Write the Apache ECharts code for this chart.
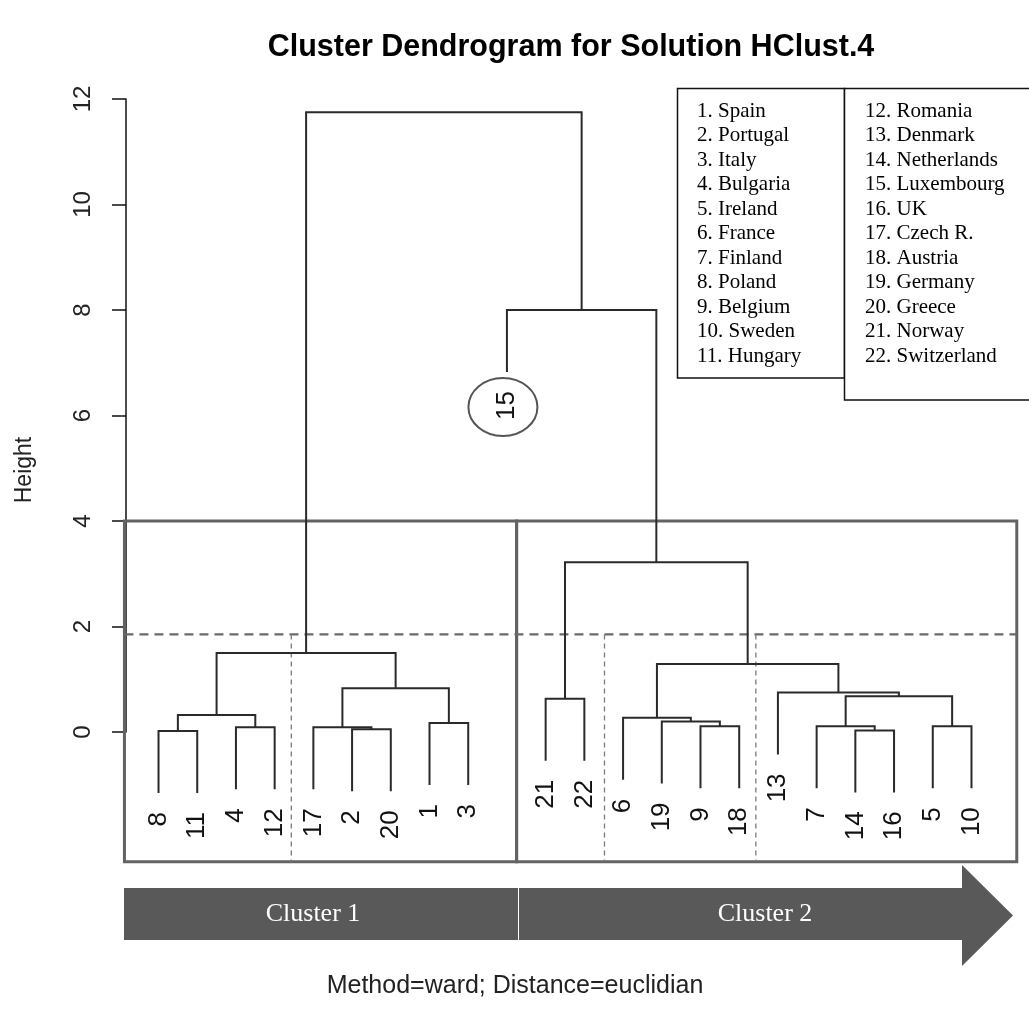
<!DOCTYPE html>
<html><head><meta charset="utf-8">
<script src="https://cdn.jsdelivr.net/npm/echarts@6/dist/echarts.min.js"></script>
<style>html,body{margin:0;padding:0;background:#fff}#c{width:1029px;height:1020px}</style>
</head><body><div id="c"></div>
<script>
// ---------------- DATA ----------------
// leaf order along the x axis (country numbers)
const leafOrder = [8,11,4,12,17,2,20,1,3,15,21,22,6,19,9,18,13,7,14,16,5,10];
// merges (R hclust convention: negative = leaf number, positive = earlier merge step)
const mergeLeft   = [-8,-14,-2,-4,-17,-9,-7,-5,-1,-19,-6, 1,-21, 7,-13, 5,11,12,13,-15,18];
const mergeRight  = [-11,-16,-20,-12, 3,-18, 2,-10,-3, 6,10, 4,-22, 8, 14, 9,15,16,17, 19,20];
const mergeHeight = [0.02,0.03,0.05,0.09,0.09,0.11,0.11,0.11,0.17,0.20,0.27,0.32,0.63,0.68,0.75,0.83,1.29,1.50,3.22,8.00,11.75];
const hang = 0.1;
const yTicks = [0, 2, 4, 6, 8, 10, 12];
const countries = ['Spain','Portugal','Italy','Bulgaria','Ireland','France','Finland','Poland','Belgium','Sweden','Hungary',
  'Romania','Denmark','Netherlands','Luxembourg','UK','Czech R.','Austria','Germany','Greece','Norway','Switzerland'];
const clusterNames = ['Cluster 1', 'Cluster 2'];
const circledLeaf = 15;
// cut annotations (in axis units)
const clusterBoxEdges = [0.12, 10.25, 23.17];   // x edges of the k=2 boxes
const clusterBoxTop = 4.0;
const clusterBoxBottom = -2.46;
const subCutHeight = 1.85;                      // dashed cut line
const subClusterEdges = [4.43, 12.52, 16.43];    // thin dashed dividers
const titleText = 'Cluster Dendrogram for Solution HClust.4';
const subText = 'Method=ward; Distance=euclidian';

// ---------------- BUILD TREE GEOMETRY ----------------
const maxH = Math.max(...mergeHeight);
const hangLen = hang * maxH;
const leafX = {};
leafOrder.forEach((lab, i) => { leafX[lab] = i + 1; });
const nodeX = [], leafEnds = {};
const segs = [];
for (let i = 0; i < mergeHeight.length; i++) {
  const h = mergeHeight[i];
  const kids = [mergeLeft[i], mergeRight[i]].map(c => {
    if (c < 0) { const lab = -c; leafEnds[lab] = h - hangLen; return [leafX[lab], h - hangLen]; }
    return [nodeX[c - 1], mergeHeight[c - 1]];
  });
  nodeX.push((kids[0][0] + kids[1][0]) / 2);
  segs.push([kids[0][0], kids[0][1], kids[0][0], h, kids[1][0], h, kids[1][0], kids[1][1]]);
}
const leafData = leafOrder.map(lab => [leafX[lab], leafEnds[lab], String(lab)]);

const boxData = [];
for (let i = 0; i < clusterBoxEdges.length - 1; i++) boxData.push([clusterBoxEdges[i], clusterBoxBottom, clusterBoxEdges[i + 1], clusterBoxTop]);
const dividerData = subClusterEdges.map(x => [x, subCutHeight, x, clusterBoxBottom]);
const cutData = [[clusterBoxEdges[0], subCutHeight, clusterBoxEdges[clusterBoxEdges.length - 1], subCutHeight]];

// ---------------- CHART ----------------
const chart = echarts.init(document.getElementById('c'), null, {renderer: 'canvas'});
const SANS = '"Liberation Sans", Arial, sans-serif';
const SERIF = '"Liberation Serif", "Times New Roman", serif';

function lineSeries(name, data, style, z) {
  return {
    type: 'custom', name, clip: false, z,
    encode: {x: [0, 2], y: [1, 3]},
    renderItem: (p, api) => {
      const a = api.coord([api.value(0), api.value(1)]);
      const b = api.coord([api.value(2), api.value(3)]);
      return {type: 'line', shape: {x1: a[0], y1: a[1], x2: b[0], y2: b[1]}, style, silent: true};
    },
    data
  };
}

const legendRows = [];
countries.forEach((c, i) => {
  const col = i < 11 ? 0 : 1, row = i % 11;
  legendRows.push({
    type: 'text', left: col === 0 ? 697 : 865, top: 101 + row * 24.45,
    style: {text: (i + 1) + '. ' + c, font: '21px ' + SERIF, fill: '#000'}
  });
});

const option = {
  animation: false,
  backgroundColor: '#fff',
  title: {
    text: titleText, left: 566, top: 27, textAlign: 'center',
    textStyle: {fontFamily: SANS, fontSize: 30.5, fontWeight: 'bold', color: '#000'}
  },
  grid: {left: 126, right: 25, top: 99, bottom: 288, containLabel: false},
  xAxis: {type: 'value', min: 0.16, max: 22.84, show: false},
  yAxis: {
    type: 'value', min: yTicks[0], max: yTicks[yTicks.length - 1], interval: 2,
    axisLine: {show: true, lineStyle: {color: '#111', width: 1.5}},
    axisTick: {show: true, length: 14, lineStyle: {color: '#111', width: 1.5}},
    axisLabel: {rotate: 90, margin: 31, fontFamily: SANS, fontSize: 24, color: '#222'},
    splitLine: {show: false}
  },
  series: [
    {
      type: 'custom', name: 'boxes', clip: false, z: 2,
      encode: {x: [0, 2], y: [1, 3]},
      renderItem: (p, api) => {
        const a = api.coord([api.value(0), api.value(1)]);
        const b = api.coord([api.value(2), api.value(3)]);
        return {type: 'rect', shape: {x: a[0], y: b[1], width: b[0] - a[0], height: a[1] - b[1]},
          style: {fill: 'none', stroke: '#636363', lineWidth: 3}, silent: true};
      },
      data: boxData
    },
    lineSeries('cut', cutData, {stroke: '#6a6a6a', lineWidth: 2.2, lineDash: [9, 6]}, 3),
    lineSeries('dividers', dividerData, {stroke: '#7a7a7a', lineWidth: 1.3, lineDash: [5, 4]}, 3),
    {
      type: 'custom', name: 'dendrogram', clip: false, z: 5,
      encode: {x: [0, 2, 4, 6], y: [1, 3, 5, 7]},
      renderItem: (p, api) => {
        const pts = [];
        for (let k = 0; k < 4; k++) pts.push(api.coord([api.value(2 * k), api.value(2 * k + 1)]));
        return {type: 'polyline', shape: {points: pts}, style: {fill: 'none', stroke: '#2a2a2a', lineWidth: 2}, silent: true};
      },
      data: segs
    },
    {
      type: 'custom', name: 'leafLabels', clip: false, z: 6,
      encode: {x: 0, y: 1},
      renderItem: (p, api) => {
        const a = api.coord([api.value(0), api.value(1)]);
        const lab = leafData[p.dataIndex][2];
        const children = [{
          type: 'text', x: a[0], y: a[1] + 19, rotation: Math.PI / 2,
          style: {text: lab, font: '26px ' + SANS, fill: '#111', align: 'right', verticalAlign: 'middle'}, silent: true
        }];
        if (Number(lab) === circledLeaf) {
          children.push({type: 'ellipse', shape: {cx: a[0] - 4, cy: a[1] + 35, rx: 34.5, ry: 29},
            style: {fill: 'none', stroke: '#555', lineWidth: 2}, silent: true});
        }
        return {type: 'group', children};
      },
      data: leafData
    }
  ],
  graphic: [
    {type: 'text', x: 25, y: 470, rotation: Math.PI / 2,
      style: {text: 'Height', font: '23px ' + SANS, fill: '#222', align: 'center', verticalAlign: 'middle'}},
    {type: 'rect', shape: {x: 677.5, y: 88.5, width: 167, height: 289.5}, style: {fill: '#fff', stroke: '#111', lineWidth: 1.5}},
    {type: 'rect', shape: {x: 844.5, y: 88.5, width: 220, height: 311.5}, style: {fill: '#fff', stroke: '#111', lineWidth: 1.5}},
    ...legendRows,
    {type: 'polygon', shape: {points: [[124, 888], [962, 888], [962, 865], [1013, 915.5], [962, 966], [962, 940], [124, 940]]},
      style: {fill: '#595959'}},
    {type: 'line', shape: {x1: 518.5, y1: 888, x2: 518.5, y2: 940}, style: {stroke: '#fff', lineWidth: 1}},
    {type: 'text', x: 313, y: 914, style: {text: clusterNames[0], font: '26px ' + SERIF, fill: '#fff', align: 'center', verticalAlign: 'middle'}},
    {type: 'text', x: 765, y: 914, style: {text: clusterNames[1], font: '26px ' + SERIF, fill: '#fff', align: 'center', verticalAlign: 'middle'}},
    {type: 'text', x: 515, y: 986, style: {text: subText, font: '25px ' + SANS, fill: '#222', align: 'center', verticalAlign: 'middle'}}
  ]
};
chart.setOption(option);
</script>
</body></html>
